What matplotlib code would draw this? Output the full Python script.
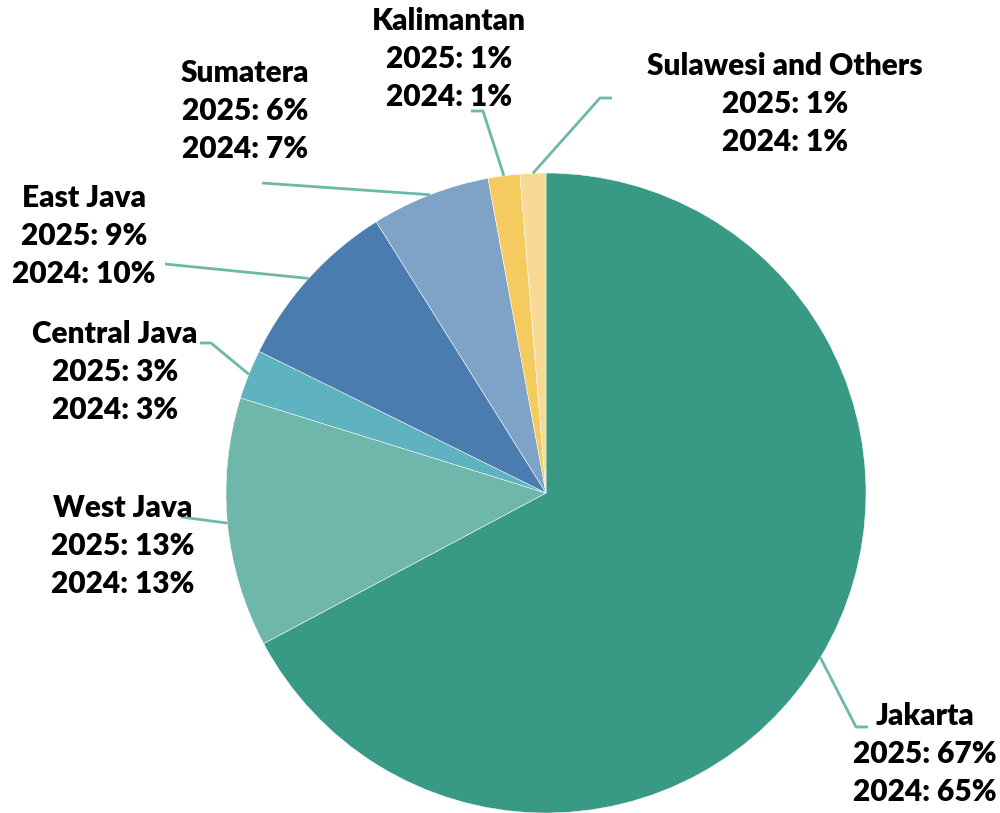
import numpy as np
import matplotlib
matplotlib.use("Agg")
import matplotlib.pyplot as plt

regions = ["Jakarta", "West Java", "Central Java", "East Java", "Sumatera",
           "Kalimantan", "Sulawesi and Others"]
slice_share = [67.2, 12.6, 2.5, 8.8, 6.0, 1.6, 1.3]
pct_2025 = [67, 13, 3, 9, 6, 1, 1]
pct_2024 = [65, 13, 3, 10, 7, 1, 1]
colors = ["#389985", "#70B7AB", "#5FB2BF", "#4A7CAF", "#7FA2C7", "#F5CA5F", "#F8DA95"]

W, H = 1000, 813
fig = plt.figure(figsize=(W / 100, H / 100), dpi=100)
ax = fig.add_axes([0, 0, 1, 1])

cx, cy, r = 546, H - 493, 320
wedges, _ = ax.pie(slice_share, colors=colors, startangle=90, counterclock=False,
                   center=(cx, cy), radius=r, frame=True,
                   wedgeprops=dict(edgecolor="white", linewidth=0.35))
ax.set_xlim(0, W)
ax.set_ylim(0, H)
ax.set_aspect("equal")
ax.axis("off")

label_pos = [(925, 754), (123, 546), (115, 372), (84, 236), (245, 111), (449, 59), (785, 104)]
leader_pts = [
    [(868, 727), (856, 727)],
    [(181, 517)],
    [(200, 343), (211, 343)],
    [(165, 264)],
    [(262, 183)],
    [(471, 111), (483, 111)],
    [(612, 98), (600, 98)],
]
line_color = "#6DB8AB"

for w, name, p25, p24, (lx, ly), pts in zip(wedges, regions, pct_2025, pct_2024,
                                           label_pos, leader_pts):
    mid = np.deg2rad((w.theta1 + w.theta2) / 2)
    ex, ey = cx + r * np.cos(mid), cy + r * np.sin(mid)
    xs = [p[0] for p in pts] + [ex]
    ys = [H - p[1] for p in pts] + [ey]
    ax.plot(xs, ys, color=line_color, lw=2, solid_capstyle="butt", zorder=3)
    ax.text(lx, H - ly, f"{name}\n2025: {p25}%\n2024: {p24}%", ha="center", va="center",
            fontsize=21.5, fontweight="heavy", family="Lato", linespacing=1.45,
            color="black")

fig.savefig("out.png", dpi=100)
